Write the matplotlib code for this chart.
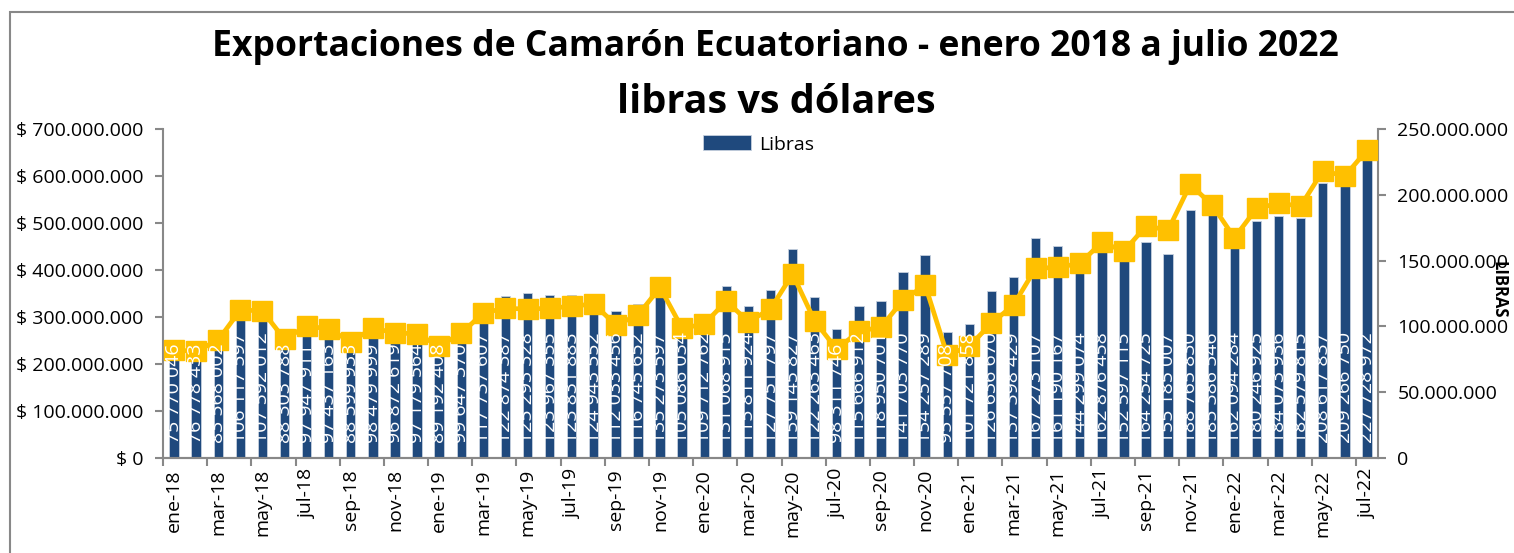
import numpy as np
import matplotlib.pyplot as plt
from matplotlib.ticker import FuncFormatter, FixedLocator
from matplotlib.patches import Rectangle

plt.rcParams['font.family'] = ['Open Sans', 'DejaVu Sans']

meses = ["ene", "feb", "mar", "abr", "may", "jun", "jul", "ago", "sep", "oct", "nov", "dic"]
fechas = [m + "-" + str(a) for a in range(18, 23) for m in meses][:55]

# libras (barras, eje derecho)
libras = [75770046, 76778433, 83568002, 106117597, 107592012, 88303788, 97947911, 97437163,
          88599933, 98479999, 96872619, 97179564, 89192408, 99647370, 117737607, 122874387,
          125293328, 123967355, 123831883, 124943552, 112033456, 116745652, 135273597, 105086034,
          109712762, 131068915, 115811924, 127751797, 159145827, 122263463, 98311746, 115666912,
          118950701, 141703770, 154257289, 95557708, 101721858, 126636670, 137398429, 167273107,
          161190167, 144299074, 162876458, 152597115, 164254725, 155185007, 188765830, 185386546,
          162094284, 180246925, 184073936, 182579815, 208617837, 209266750, 227728972]

# dolares (linea, eje izquierdo), en millones
dolares = [229.8, 227, 251, 315, 313, 252.5, 281, 274.5, 247.5, 276, 266.6, 263.8, 238.3, 265,
           309, 318.4, 317, 318.4, 323, 327.7, 283, 304, 363, 276, 285, 334, 290, 317, 391.5,
           291.5, 231, 270, 278, 336, 368, 219, 238, 286.5, 325.5, 403.5, 405.7, 414, 459, 440,
           493.6, 485, 582, 538, 468.5, 531, 542, 536, 611, 600, 655]
dolares = [d * 1e6 for d in dolares]

azul = "#1F497D"
amarillo = "#FFC000"
gris = "#888888"

fig = plt.figure(figsize=(15.14, 5.53), dpi=100)
fig.patches.append(Rectangle((10 / 1514, -0.1), 1.1, 1.1 - 12 / 553, transform=fig.transFigure,
                             fill=False, edgecolor=gris, linewidth=1.5))

ax1 = fig.add_axes([163 / 1514, 95 / 553, 1215 / 1514, 329 / 553])
ax2 = ax1.twinx()
ax1.set_zorder(2)
ax1.patch.set_visible(False)

x = np.arange(len(fechas))
barras = ax2.bar(x, libras, width=0.42, color=azul, edgecolor="#C5D0DE", linewidth=0.6, label="Libras")
ax1.plot(x, dolares, color=amarillo, linewidth=3.4, marker="s", markersize=14, zorder=3)

# etiquetas blancas dentro de la base de cada barra
for i, v in enumerate(libras):
    ax1.annotate(f"{v:,}".replace(",", " "), (i, 0), xytext=(0, 11), textcoords="offset points",
                 rotation=90, ha="center", va="bottom", color="white", fontsize=14, zorder=5)

ax1.set_xlim(-0.5, len(fechas) - 0.5)
ax1.set_ylim(0, 700e6)
ax2.set_ylim(0, 250e6)
ax1.set_yticks(np.arange(0, 700e6 + 1, 100e6))
ax2.set_yticks(np.arange(0, 250e6 + 1, 50e6))
ax1.yaxis.set_major_formatter(FuncFormatter(lambda v, p: "$ " + f"{v:,.0f}".replace(",", ".")))
ax2.yaxis.set_major_formatter(FuncFormatter(lambda v, p: f"{v:,.0f}".replace(",", ".")))

ax1.set_xticks(x[::2])
ax1.set_xticklabels(fechas[::2], rotation=90)
ax1.xaxis.set_minor_locator(FixedLocator(np.arange(-0.5, len(fechas), 2)))
ax1.tick_params(axis="x", which="major", length=0, labelsize=14, pad=8)
ax1.tick_params(axis="x", which="minor", length=6, color=gris, width=1.5)
ax1.tick_params(axis="y", length=6, color=gris, width=1.5, labelsize=14, pad=8)
ax2.tick_params(axis="y", length=6, color=gris, width=1.5, labelsize=14, pad=8)

for a in (ax1, ax2):
    a.spines["top"].set_visible(False)
    for s in ("left", "right", "bottom"):
        a.spines[s].set_color(gris)
        a.spines[s].set_linewidth(1.5)
ax1.spines["right"].set_visible(False)
ax2.spines["left"].set_visible(False)

ax1.legend(handles=[barras], loc="upper center", bbox_to_anchor=(0.49, 1.01), frameon=False,
           fontsize=14, handlelength=2.5, handleheight=0.8, handletextpad=0.4, borderaxespad=0.1)

fig.text(0.512, 0.915, "Exportaciones de Camarón Ecuatoriano - enero 2018 a julio 2022",
         ha="center", va="center", fontsize=25.6, fontweight="bold")
fig.text(0.513, 0.815, "libras vs dólares", ha="center", va="center", fontsize=28.5, fontweight="bold")
fig.text(0.9895, 0.4756, "LIBRAS", rotation=-90, ha="center", va="center", fontsize=12, fontweight="bold")

fig.savefig("out.png", dpi=100)
